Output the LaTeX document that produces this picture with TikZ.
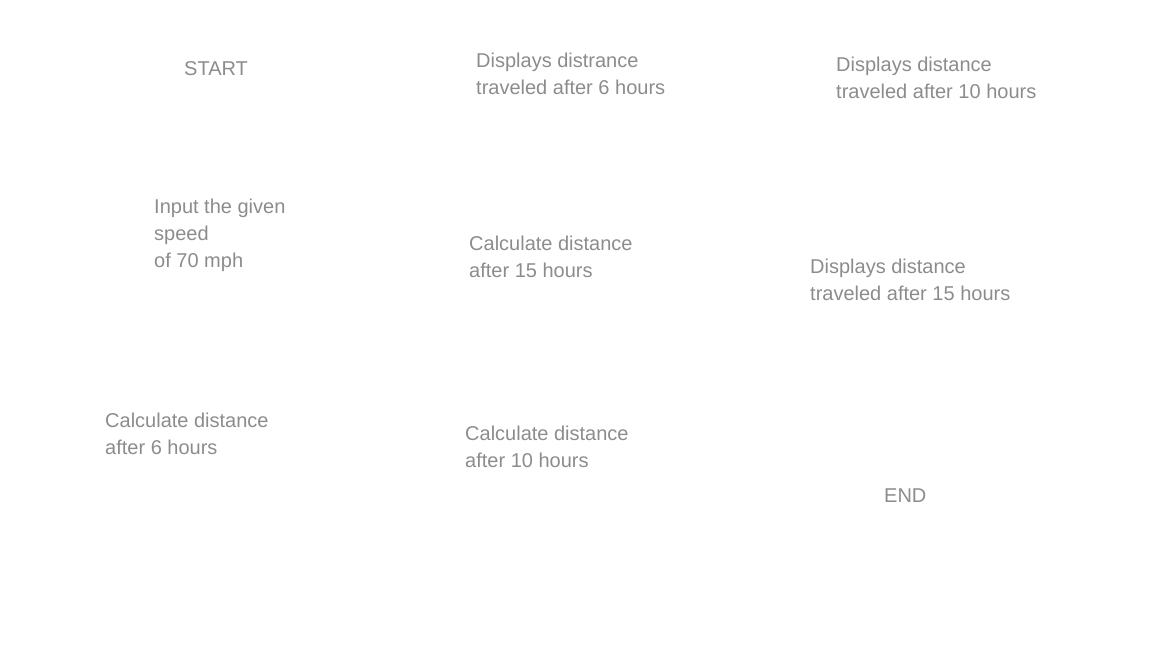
\documentclass[tikz,border=0pt]{standalone}
\usepackage{fontspec}
\setmainfont{Liberation Sans}
\tikzset{
 steptext/.style={anchor=north west,inner sep=0pt,align=left,text=black!45,
  font=\fontsize{20}{27}\selectfont}
}
\begin{document}
\begin{tikzpicture}[x=1pt,y=-1pt]
 \useasboundingbox (0,0) rectangle (1152,648);
 \node[steptext] (start) at (184,61.4) {START};
 \node[steptext] (input) at (154,198.4) {Input the given\\speed\\of 70 mph};
 \node[steptext] (calc6) at (105,412.4) {Calculate distance\\after 6 hours};
 \node[steptext] (show6) at (476,52.4) {Displays distrance\\traveled after 6 hours};
 \node[steptext] (calc10) at (465,425.4) {Calculate distance\\after 10 hours};
 \node[steptext] (show10) at (836,56.4) {Displays distance\\traveled after 10 hours};
 \node[steptext] (calc15) at (469,235.4) {Calculate distance\\after 15 hours};
 \node[steptext] (show15) at (810,258.4) {Displays distance\\traveled after 15 hours};
 \node[steptext] (finish) at (884,488.4) {END};
\end{tikzpicture}
\end{document}
